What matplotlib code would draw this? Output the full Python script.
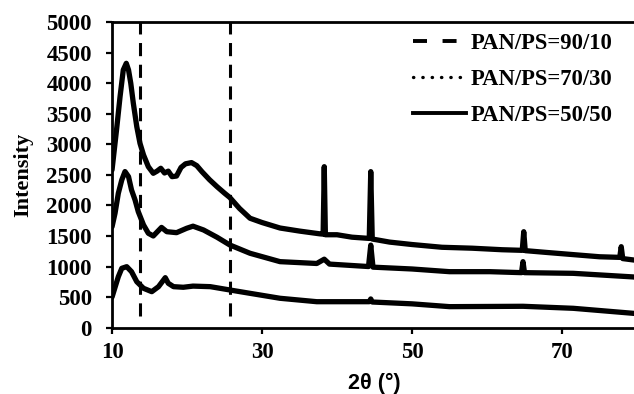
import matplotlib
matplotlib.use("Agg")
import matplotlib.pyplot as plt
from matplotlib.lines import Line2D

# data (2theta in degrees, intensity in counts)
x_5050 = [10, 10.6, 11.07, 11.5, 11.9, 12.2, 12.5, 12.84, 13.3, 13.73, 14.2, 14.84, 15.5,
          16.0, 16.5, 17.0, 17.5, 18.0, 18.6, 19.2, 19.8, 20.6, 21.3, 22.0, 23.0, 24.0,
          25.0, 25.7, 27.0, 28.4, 30.0, 32.4, 35.0, 37.7, 38.15, 38.3, 38.45, 40.0, 42.0,
          44.3, 44.5, 44.7, 47.0, 50.0, 54.0, 58.0, 62.0, 64.7, 64.9, 65.1, 68.0, 72.0,
          75.0, 77.7, 77.9, 78.1, 80.0]
y_5050 = [2580, 3234, 3778, 4215, 4324, 4215, 3997, 3670, 3288, 3015, 2825, 2633, 2525,
          2560, 2607, 2530, 2560, 2470, 2480, 2620, 2680, 2700, 2650, 2550, 2420, 2306,
          2200, 2130, 1950, 1790, 1720, 1630, 1580, 1535, 1530, 2633, 1520, 1520, 1480,
          1460, 2552, 1450, 1400, 1360, 1315, 1300, 1275, 1265, 1570, 1260, 1230, 1190,
          1160, 1150, 1325, 1130, 1100]

x_7030 = [10, 10.4, 10.84, 11.3, 11.73, 12.2, 12.6, 13.07, 13.5, 14.2, 14.84, 15.5, 16.6,
          17.3, 18.6, 19.96, 20.8, 22.2, 24.0, 25.7, 28.4, 32.4, 37.3, 38.3, 39.0, 44.2,
          44.5, 44.8, 50.0, 55.0, 60.4, 64.6, 64.8, 65.0, 71.5, 79.5, 80.0]
y_7030 = [1650, 1871, 2198, 2416, 2553, 2470, 2252, 2089, 1897, 1680, 1544, 1500, 1640,
          1570, 1554, 1626, 1660, 1598, 1479, 1353, 1217, 1080, 1050, 1120, 1040, 1000,
          1350, 990, 960, 916, 916, 900, 1080, 900, 889, 830, 820]

x_9010 = [10, 10.84, 11.3, 11.96, 12.6, 13.3, 14.2, 15.3, 16.2, 17.1, 17.5, 18.2, 19.5,
          20.8, 23.1, 25.7, 28.4, 32.4, 37.3, 44.3, 44.5, 44.7, 50.0, 55.0, 64.8, 71.5,
          79.5, 80.0]
y_9010 = [500, 834, 971, 998, 916, 752, 644, 589, 671, 818, 726, 671, 661,
          680, 671, 617, 562, 481, 425, 425, 470, 420, 390, 344, 350, 317,
          235, 230]

ref_lines = [13.73, 25.73]
labels = ["PAN/PS=90/10", "PAN/PS=70/30", "PAN/PS=50/50"]

fig = plt.figure(figsize=(6.34, 3.94), dpi=100)
ax = fig.add_axes([0.1767, 0.1683, 0.828, 0.776])

for xs, ys in [(x_5050, y_5050), (x_7030, y_7030), (x_9010, y_9010)]:
    ax.plot(xs, ys, color="black", lw=3.8, solid_joinstyle="round", solid_capstyle="round")

for xv in ref_lines:
    ln = ax.plot([xv, xv], [190, 5000], color="black", lw=2.2)[0]
    ln.set_dashes([4.3, 2.8])

ax.set_xlim(10, 80)
ax.set_ylim(0, 5000)
ax.set_xticks([10, 30, 50, 70])
ax.set_yticks(range(0, 5001, 500))

for side in ["left", "bottom", "top", "right"]:
    ax.spines[side].set_linewidth(2.0)

ax.tick_params(direction="out", length=4.5, width=1.6)
ax.tick_params(axis="y", pad=10)
ax.tick_params(axis="x", pad=6)
for lab in ax.get_xticklabels() + ax.get_yticklabels():
    lab.set_fontfamily("Liberation Serif")
    lab.set_fontweight("bold")
    lab.set_fontsize(16.5)

ax.set_ylabel("Intensity", family="Liberation Serif", fontweight="bold", fontsize=16)
ax.yaxis.set_label_coords(-0.15, 0.5)
ax.set_xlabel("2θ (°)", family="Liberation Sans", fontweight="bold", fontsize=15.5)
ax.xaxis.set_label_coords(0.5, -0.148)

handles = [
    Line2D([], [], color="black", lw=2.8, dashes=(3.6, 4.0)),
    Line2D([], [], color="black", lw=2.4, linestyle=(0, (0.1, 2.7)), dash_capstyle="round"),
    Line2D([], [], color="black", lw=2.8),
]
fig.legend(handles, labels, loc="upper left", bbox_to_anchor=(0.651, 0.917),
           frameon=False, borderpad=0, borderaxespad=0, handlelength=2.35,
           handletextpad=0.2, labelspacing=0.66,
           prop={"family": "Liberation Serif", "weight": "bold", "size": 16.3})

fig.savefig("out.png", dpi=100, facecolor="white")
